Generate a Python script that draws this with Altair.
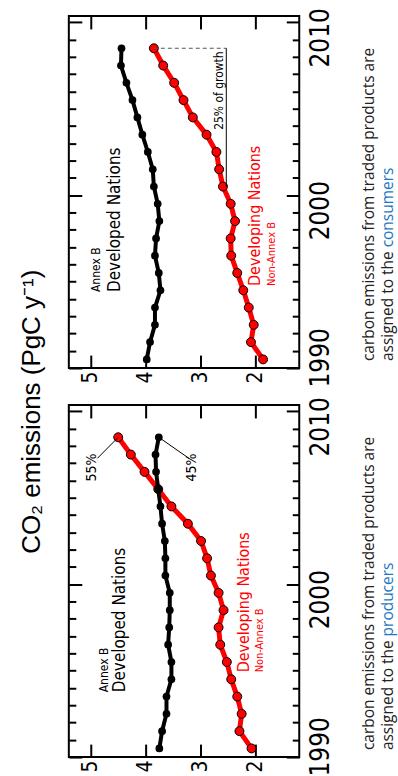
import altair as alt
import pandas as pd

# ---------------- data ----------------
years = list(range(1990, 2009))

# consumer-based accounting (upper panel)
cons_developed = [3.98, 3.92, 3.83, 3.83, 3.73, 3.76, 3.83, 3.81, 3.75, 3.78,
                  3.85, 3.87, 3.96, 4.06, 4.15, 4.24, 4.35, 4.45, 4.44]
cons_developing = [1.86, 2.08, 2.03, 2.12, 2.22, 2.33, 2.44, 2.45, 2.37, 2.45,
                   2.59, 2.66, 2.71, 2.89, 3.14, 3.31, 3.48, 3.68, 3.85]

# producer-based accounting (lower panel)
prod_developed = [3.75, 3.70, 3.62, 3.62, 3.53, 3.53, 3.59, 3.57, 3.56, 3.56,
                  3.64, 3.64, 3.65, 3.70, 3.73, 3.77, 3.81, 3.82, 3.76]
prod_developing = [2.07, 2.29, 2.25, 2.33, 2.44, 2.52, 2.64, 2.67, 2.58, 2.67,
                   2.81, 2.88, 2.99, 3.23, 3.53, 3.77, 4.02, 4.27, 4.50]

emission_ticks = [2, 3, 4, 5]
year_labels = [2000, 2010]
first_year_label = [1990]
major_years = [1990, 2000, 2010]
minor_years = [y for y in range(1991, 2010) if y % 10]

caption_line1 = "carbon emissions from traded products are"
caption_line2 = "assigned to the "

# ---------------- style ----------------
NARROW = "Liberation Sans Narrow, Arial Narrow, DejaVu Sans Condensed, sans-serif"
SANS = "Open Sans, sans-serif"
RED = "#ff0000"
BLUE = "#1f78c4"
W, H = 231, 353
X_DOMAIN = [1.2, 5.4]
Y_DOMAIN = [1990, 2010.37]


def one():
    return pd.DataFrame({"k": [0]})


def tick_axis(orient, values, size):
    return alt.Axis(orient=orient, values=values, tickSize=size, offset=-size,
                    labels=False, domain=False, grid=False, title=None,
                    tickColor="black", tickWidth=2)


def year_axis(values, offset, align):
    return alt.Axis(orient="right", values=values, ticks=False, domain=False,
                    grid=False, title=None, labelAngle=270, labelFont=NARROW,
                    labelFontSize=26, labelColor="black", labelPadding=8,
                    labelFlush=False, labelOffset=offset, labelAlign=align, format="d")


def panel(developed, developing, texts, segs, word):
    xs = alt.Scale(domain=X_DOMAIN, reverse=True, nice=False, zero=False)
    ys = alt.Scale(domain=Y_DOMAIN, nice=False, zero=False)
    df = pd.DataFrame({"year": years, "developed": developed, "developing": developing})
    base = alt.Chart(df).transform_calculate(ym="datum.year + 0.5")

    def holder(xaxis, yaxis):
        return base.mark_point(opacity=0).encode(
            x=alt.X("developed:Q", scale=xs, axis=xaxis),
            y=alt.Y("ym:Q", scale=ys, axis=yaxis))

    x_lab = alt.Axis(orient="bottom", values=emission_ticks, ticks=False, domain=False,
                     grid=False, title=None, labelAngle=270, labelFont=NARROW,
                     labelFontSize=21, labelColor="black", labelPadding=3,
                     labelFlush=False, format="d")

    holders = [
        holder(x_lab, year_axis(year_labels, 15, "center")),
        holder(None, year_axis(first_year_label, 19, "left")),
        holder(tick_axis("bottom", emission_ticks, 13), tick_axis("left", major_years, 13)),
        holder(tick_axis("top", emission_ticks, 13), tick_axis("right", major_years, 13)),
        holder(None, tick_axis("left", minor_years, 7)),
        holder(None, tick_axis("right", minor_years, 7)),
    ]

    enc = dict(y=alt.Y("ym:Q", scale=ys, axis=None), order=alt.Order("year:Q"))
    red_line = base.mark_line(color=RED, strokeWidth=5).encode(
        x=alt.X("developing:Q", scale=xs, axis=None), **enc)
    red_pts = base.mark_point(filled=True, fill=RED, stroke="black", strokeWidth=1,
                              size=80, opacity=1).encode(
        x=alt.X("developing:Q", scale=xs, axis=None), y=alt.Y("ym:Q", scale=ys, axis=None))
    blk_line = base.mark_line(color="black", strokeWidth=4).encode(
        x=alt.X("developed:Q", scale=xs, axis=None), **enc)
    blk_pts = base.mark_circle(color="black", size=60, opacity=1).encode(
        x=alt.X("developed:Q", scale=xs, axis=None), y=alt.Y("ym:Q", scale=ys, axis=None))

    ann = []
    for (txt, xv, yv, size, color, align) in texts:
        ann.append(alt.Chart(one()).mark_text(
            text=txt, angle=270, align=align, baseline="middle", font=NARROW,
            fontSize=size, color=color).encode(
            x=alt.XDatum(xv, scale=xs, axis=None), y=alt.YDatum(yv, scale=ys, axis=None)))
    for (x1, x2, y1, y2, color, width, dash) in segs:
        kw = dict(color=color, strokeWidth=width)
        if dash:
            kw["strokeDash"] = dash
        ann.append(alt.Chart(one()).mark_rule(**kw).encode(
            x=alt.XDatum(x1, scale=xs, axis=None), x2=alt.X2Datum(x2),
            y=alt.YDatum(y1, scale=ys, axis=None), y2=alt.Y2Datum(y2)))

    cap = []
    cap_kw = dict(angle=270, align="left", baseline="middle", font=SANS, fontSize=15.5)
    cap.append(alt.Chart(one()).mark_text(text=caption_line1, color="#222222", **cap_kw).encode(
        x=alt.value(301), y=alt.value(346)))
    cap.append(alt.Chart(one()).mark_text(text=caption_line2, color="#222222", **cap_kw).encode(
        x=alt.value(320), y=alt.value(346)))
    cap.append(alt.Chart(one()).mark_text(text=word, color=BLUE, **cap_kw).encode(
        x=alt.value(320), y=alt.value(232)))

    return alt.layer(*holders, red_line, red_pts, blk_line, blk_pts, *ann, *cap).resolve_axis(
        x="independent", y="independent").properties(width=W, height=H)


top = panel(
    cons_developed, cons_developing,
    texts=[
        ("Annex B", 4.91, 1994.4, 12, "black", "left"),
        ("Developed Nations", 4.55, 1994.4, 17, "black", "left"),
        ("Developing Nations", 2.01, 1994.75, 16, RED, "left"),
        ("Non-Annex B", 1.70, 1994.75, 11, RED, "left"),
        ("25% of growth", 2.66, 2006.05, 12, "black", "center"),
    ],
    segs=[
        (3.85, 2.53, 2008.5, 2008.5, "#555555", 1, [4, 3]),
        (2.53, 2.53, 2000.5, 2008.5, "black", 1, None),
    ],
    word="consumers",
)

bottom = panel(
    prod_developed, prod_developing,
    texts=[
        ("55%", 4.97, 2006.75, 14, "black", "center"),
        ("45%", 3.15, 2006.75, 14, "black", "center"),
        ("Annex B", 4.75, 1993.75, 12, "black", "left"),
        ("Developed Nations", 4.46, 1993.75, 17, "black", "left"),
        ("Developing Nations", 2.21, 1994.9, 16, RED, "left"),
        ("Non-Annex B", 1.92, 1994.9, 11, RED, "left"),
    ],
    segs=[
        (4.50, 4.88, 2008.5, 2007.28, "black", 1, None),
        (3.76, 3.21, 2008.5, 2007.28, "black", 1, None),
    ],
    word="producers",
)

chart = alt.vconcat(top, bottom, spacing=7).properties(
    title=alt.TitleParams(text="CO₂ emissions (PgC y⁻¹)", orient="left", anchor="middle",
                          fontSize=26, font="Liberation Sans, Arial, sans-serif",
                          fontWeight="normal", color="black", offset=22, dx=-20),
    padding={"left": 18, "top": 5, "right": 0, "bottom": 0},
    background="white",
).configure_view(stroke="black", strokeWidth=2)

chart.save("out.html", embed_options={"renderer": "svg", "actions": False})
